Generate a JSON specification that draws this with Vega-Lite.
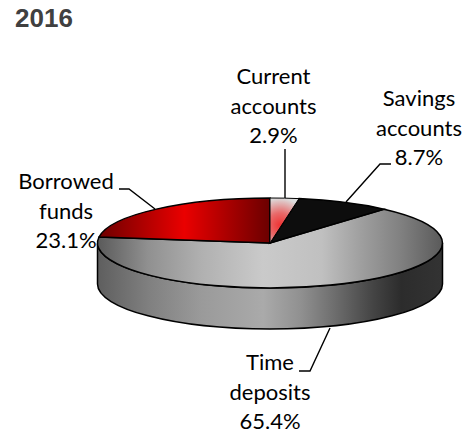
{"$schema":"https://vega.github.io/schema/vega-lite/v6.json","width":468,"height":433,"padding":0,"autosize":{"type":"none"},"background":"white","view":{"stroke":null},"data":{"values":[{"segment":"Current accounts","share":2.9,"label":"Current\naccounts\n2.9%"},{"segment":"Savings accounts","share":8.7,"label":"Savings\naccounts\n8.7%"},{"segment":"Time deposits","share":65.4,"label":"Time\ndeposits\n65.4%"},{"segment":"Borrowed funds","share":23.1,"label":"Borrowed\nfunds\n23.1%"}]},"encoding":{"x":{"datum":270,"type":"quantitative","scale":{"domain":[0,468],"range":[0,468]},"axis":null},"y":{"datum":243,"type":"quantitative","scale":{"domain":[0,433],"range":[0,433]},"axis":null}},"layer":[{"data":{"values":[{"title":"2016"}]},"mark":{"type":"text","font":"Liberation Sans","fontWeight":"bold","fontSize":26,"align":"left","baseline":"alphabetic","color":"#404040"},"encoding":{"x":{"datum":15,"type":"quantitative"},"y":{"datum":27,"type":"quantitative"},"text":{"field":"title","type":"nominal"}}},{"data":{"values":[{"part":"pie side wall"}]},"mark":{"type":"point","shape":"M-172.5 0L-172.5 41A172.5 45 0 0 0 172.5 41L172.5 0A172.5 45 0 0 1 -172.5 0Z","size":4,"filled":true,"opacity":1,"stroke":"#000000","strokeWidth":1.5,"fill":{"gradient":"linear","x1":0,"y1":0,"x2":1,"y2":0,"stops":[{"offset":0,"color":"#5e5e5e"},{"offset":0.15,"color":"#808080"},{"offset":0.3,"color":"#9a9a9a"},{"offset":0.48,"color":"#aaaaaa"},{"offset":0.59,"color":"#909090"},{"offset":0.68,"color":"#707070"},{"offset":0.8,"color":"#444444"},{"offset":0.88,"color":"#2c2c2c"},{"offset":1,"color":"#333333"}]}}},{"transform":[{"filter":"datum.segment==='Time deposits'"}],"mark":{"type":"point","shape":"M0 0L114 -33.8A172.5 45 0 1 1 -171 -6Z","size":4,"filled":true,"opacity":1,"stroke":"#000000","strokeWidth":1.5,"fill":{"gradient":"linear","x1":0,"y1":0,"x2":1,"y2":0,"stops":[{"offset":0,"color":"#5a5a5a"},{"offset":0.146,"color":"#909090"},{"offset":0.3,"color":"#b0b0b0"},{"offset":0.48,"color":"#cacaca"},{"offset":0.65,"color":"#c0c0c0"},{"offset":0.76,"color":"#a0a0a0"},{"offset":0.88,"color":"#808080"},{"offset":1,"color":"#5a5a5a"}]}}},{"transform":[{"filter":"datum.segment==='Borrowed funds'"}],"mark":{"type":"point","shape":"M0 0L-171 -6A172.5 45 0 0 1 0 -45Z","size":4,"filled":true,"opacity":1,"stroke":"#000000","strokeWidth":1.5,"fill":{"gradient":"linear","x1":0,"y1":0,"x2":1,"y2":0,"stops":[{"offset":0,"color":"#6e0000"},{"offset":0.5,"color":"#ea0000"},{"offset":1,"color":"#6b0000"}]}}},{"transform":[{"filter":"datum.segment==='Savings accounts'"}],"mark":{"type":"point","shape":"M0 0L29 -44.4A172.5 45 0 0 1 114 -33.8Z","size":4,"filled":true,"opacity":1,"stroke":"#000000","strokeWidth":1.5,"fill":"#0d0d0d"}},{"transform":[{"filter":"datum.segment==='Current accounts'"}],"mark":{"type":"point","shape":"M0 0L0 -45A172.5 45 0 0 1 29 -44.4Z","size":4,"filled":true,"opacity":1,"stroke":"#000000","strokeWidth":1,"fill":{"gradient":"radial","x1":0.4,"y1":0.6,"r1":0,"x2":0.4,"y2":0.6,"r2":0.6,"stops":[{"offset":0,"color":"#ee3333"},{"offset":0.45,"color":"#e86a6a"},{"offset":1,"color":"#dcdcdc"}]}}},{"mark":{"type":"point","size":4,"filled":false,"opacity":1,"stroke":"#000000","strokeWidth":1.4},"encoding":{"shape":{"field":"segment","type":"nominal","legend":null,"scale":{"domain":["Current accounts","Savings accounts","Time deposits","Borrowed funds"],"range":["M15 -94L15 -45","M121 -79L110 -79L76 -41","M29 128L40 128L60 85","M-151 -54L-141 -54L-115 -34"]}}}},{"transform":[{"filter":"datum.segment==='Current accounts'"}],"mark":{"type":"text","font":"Lato","fontSize":22,"lineHeight":29.5,"align":"center","baseline":"middle","color":"#000000"},"encoding":{"x":{"datum":273.5,"type":"quantitative"},"y":{"datum":77,"type":"quantitative"},"text":{"field":"label","type":"nominal"}}},{"transform":[{"filter":"datum.segment==='Savings accounts'"}],"mark":{"type":"text","font":"Lato","fontSize":22,"lineHeight":29.5,"align":"center","baseline":"middle","color":"#000000"},"encoding":{"x":{"datum":419,"type":"quantitative"},"y":{"datum":99,"type":"quantitative"},"text":{"field":"label","type":"nominal"}}},{"transform":[{"filter":"datum.segment==='Time deposits'"}],"mark":{"type":"text","font":"Lato","fontSize":22,"lineHeight":29.5,"align":"center","baseline":"middle","color":"#000000"},"encoding":{"x":{"datum":270,"type":"quantitative"},"y":{"datum":363,"type":"quantitative"},"text":{"field":"label","type":"nominal"}}},{"transform":[{"filter":"datum.segment==='Borrowed funds'"}],"mark":{"type":"text","font":"Lato","fontSize":22,"lineHeight":29.5,"align":"center","baseline":"middle","color":"#000000"},"encoding":{"x":{"datum":66,"type":"quantitative"},"y":{"datum":182,"type":"quantitative"},"text":{"field":"label","type":"nominal"}}}],"config":{"text":{"lineBreak":"\n"},"mark":{"lineBreak":"\n"}}}
